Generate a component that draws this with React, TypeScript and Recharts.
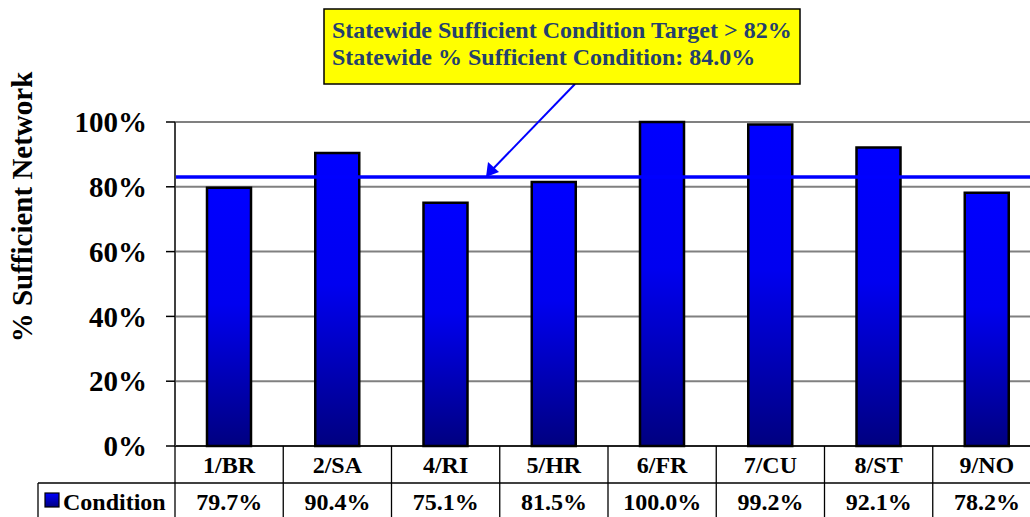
import React from 'react';
import { BarChart, Bar, XAxis, YAxis, CartesianGrid, ReferenceLine } from 'recharts';

const categories = ['1/BR', '2/SA', '4/RI', '5/HR', '6/FR', '7/CU', '8/ST', '9/NO'];
const conditionValues = [79.7, 90.4, 75.1, 81.5, 100.0, 99.2, 92.1, 78.2];
const valueLabels = ['79.7%', '90.4%', '75.1%', '81.5%', '100.0%', '99.2%', '92.1%', '78.2%'];
const yTicks = [0, 20, 40, 60, 80, 100];
const targetValue = 83;
const seriesName = 'Condition';
const annotationLines = [
  'Statewide Sufficient Condition Target > 82%',
  'Statewide % Sufficient Condition: 84.0%',
];

const data = categories.map((c, i) => ({ name: c, value: conditionValues[i], label: valueLabels[i] }));

const W = 1030;
const CW = 1041;
const H = 517;
const LEFT = 175;
const TOP = 122;
const XAXIS_H = 71;
const FONT = '"Liberation Serif", "Times New Roman", serif';

const TableTick = (props: any) => {
  const { x, y, payload, index } = props;
  const half = (CW - LEFT) / categories.length / 2;
  const i = typeof index === 'number' ? index : categories.indexOf(payload.value);
  const base = y;
  const rowSplit = base + 37;
  return (
    <g>
      {i === 0 && <line x1={x - half} x2={x - half} y1={base} y2={H} stroke="#000" strokeWidth={1.3} />}
      <line x1={x + half} x2={x + half} y1={base} y2={H} stroke="#000" strokeWidth={1.3} />
      <line x1={x - half} x2={x + half} y1={rowSplit} y2={rowSplit} stroke="#000" strokeWidth={1.3} />
      <text x={x} y={base + 27} textAnchor="middle" style={{ fontFamily: FONT, fontWeight: 700, fontSize: 24 }} fill="#000">
        {payload.value}
      </text>
      <text x={x} y={rowSplit + 27} textAnchor="middle" style={{ fontFamily: FONT, fontWeight: 700, fontSize: 24 }} fill="#000">
        {data[i] ? data[i].label : ''}
      </text>
    </g>
  );
};

export default function App() {
  return (
    <div style={{ position: 'absolute', left: 0, top: 0, width: W, height: H, background: '#fff', overflow: 'hidden', fontFamily: FONT }}>
      <BarChart width={CW} height={H} data={data} margin={{ top: TOP, right: 0, bottom: 0, left: 0 }} barCategoryGap={0}>
        <defs>
          <linearGradient id="barGrad" x1="0" y1="0" x2="0" y2="1">
            <stop offset="0%" stopColor="#0000FF" />
            <stop offset="45%" stopColor="#0000F0" />
            <stop offset="100%" stopColor="#000080" />
          </linearGradient>
        </defs>
        <CartesianGrid vertical={false} stroke="#808080" strokeWidth={2} />
        <XAxis
          dataKey="name"
          height={XAXIS_H}
          tickLine={false}
          tickSize={0}
          tickMargin={0}
          axisLine={{ stroke: '#000', strokeWidth: 1.5 }}
          tick={<TableTick />}
          interval={0}
        />
        <YAxis
          width={LEFT}
          domain={[0, 100]}
          ticks={yTicks}
          tickFormatter={(v: number) => `${v}%`}
          tickSize={9}
          tickMargin={19}
          tickLine={{ stroke: '#000', strokeWidth: 1.5 }}
          axisLine={{ stroke: '#404040', strokeWidth: 2 }}
          tick={{ style: { fontFamily: FONT, fontWeight: 700, fontSize: 29 }, fill: '#000' }}
        />
        <Bar
          dataKey="value"
          name={seriesName}
          barSize={44}
          fill="url(#barGrad)"
          stroke="#000"
          strokeWidth={2.5}
          isAnimationActive={false}
        />
        <ReferenceLine y={targetValue} stroke="#0000FF" strokeWidth={3.5} ifOverflow="extendDomain" />
      </BarChart>

      <svg width={W} height={H} style={{ position: 'absolute', left: 0, top: 0, pointerEvents: 'none' }}>
        <defs>
          <linearGradient id="legGrad2" x1="0" y1="0" x2="0" y2="1">
            <stop offset="0%" stopColor="#0000FF" />
            <stop offset="100%" stopColor="#000080" />
          </linearGradient>
        </defs>
        <line x1={38} x2={LEFT} y1={483} y2={483} stroke="#000" strokeWidth={1.3} />
        <line x1={38} x2={38} y1={483} y2={H} stroke="#000" strokeWidth={1.3} />
        <rect x={45} y={493} width={14} height={14} fill="url(#legGrad2)" stroke="#000" strokeWidth={1.2} />
        <text x={63} y={510} style={{ fontFamily: FONT, fontWeight: 700, fontSize: 24 }} fill="#000">{seriesName}</text>

        <text
          x={0}
          y={0}
          transform="translate(32,207) rotate(-90)"
          textAnchor="middle"
          style={{ fontFamily: FONT, fontWeight: 700, fontSize: 29 }}
          fill="#000"
        >
          % Sufficient Network
        </text>

        <line x1={575} y1={84} x2={490} y2={172} stroke="#0000FF" strokeWidth={2} />
        <path d="M486,177 L488,162 L499,172 Z" fill="#0000FF" />
        <rect x={324} y={9} width={476} height={75} fill="#FFFF00" stroke="#000" strokeWidth={1.5} />
        <text x={332} y={38} style={{ fontFamily: FONT, fontWeight: 700, fontSize: 24 }} fill="#24406E">{annotationLines[0]}</text>
        <text x={332} y={65} style={{ fontFamily: FONT, fontWeight: 700, fontSize: 24 }} fill="#24406E">{annotationLines[1]}</text>
      </svg>
    </div>
  );
}
